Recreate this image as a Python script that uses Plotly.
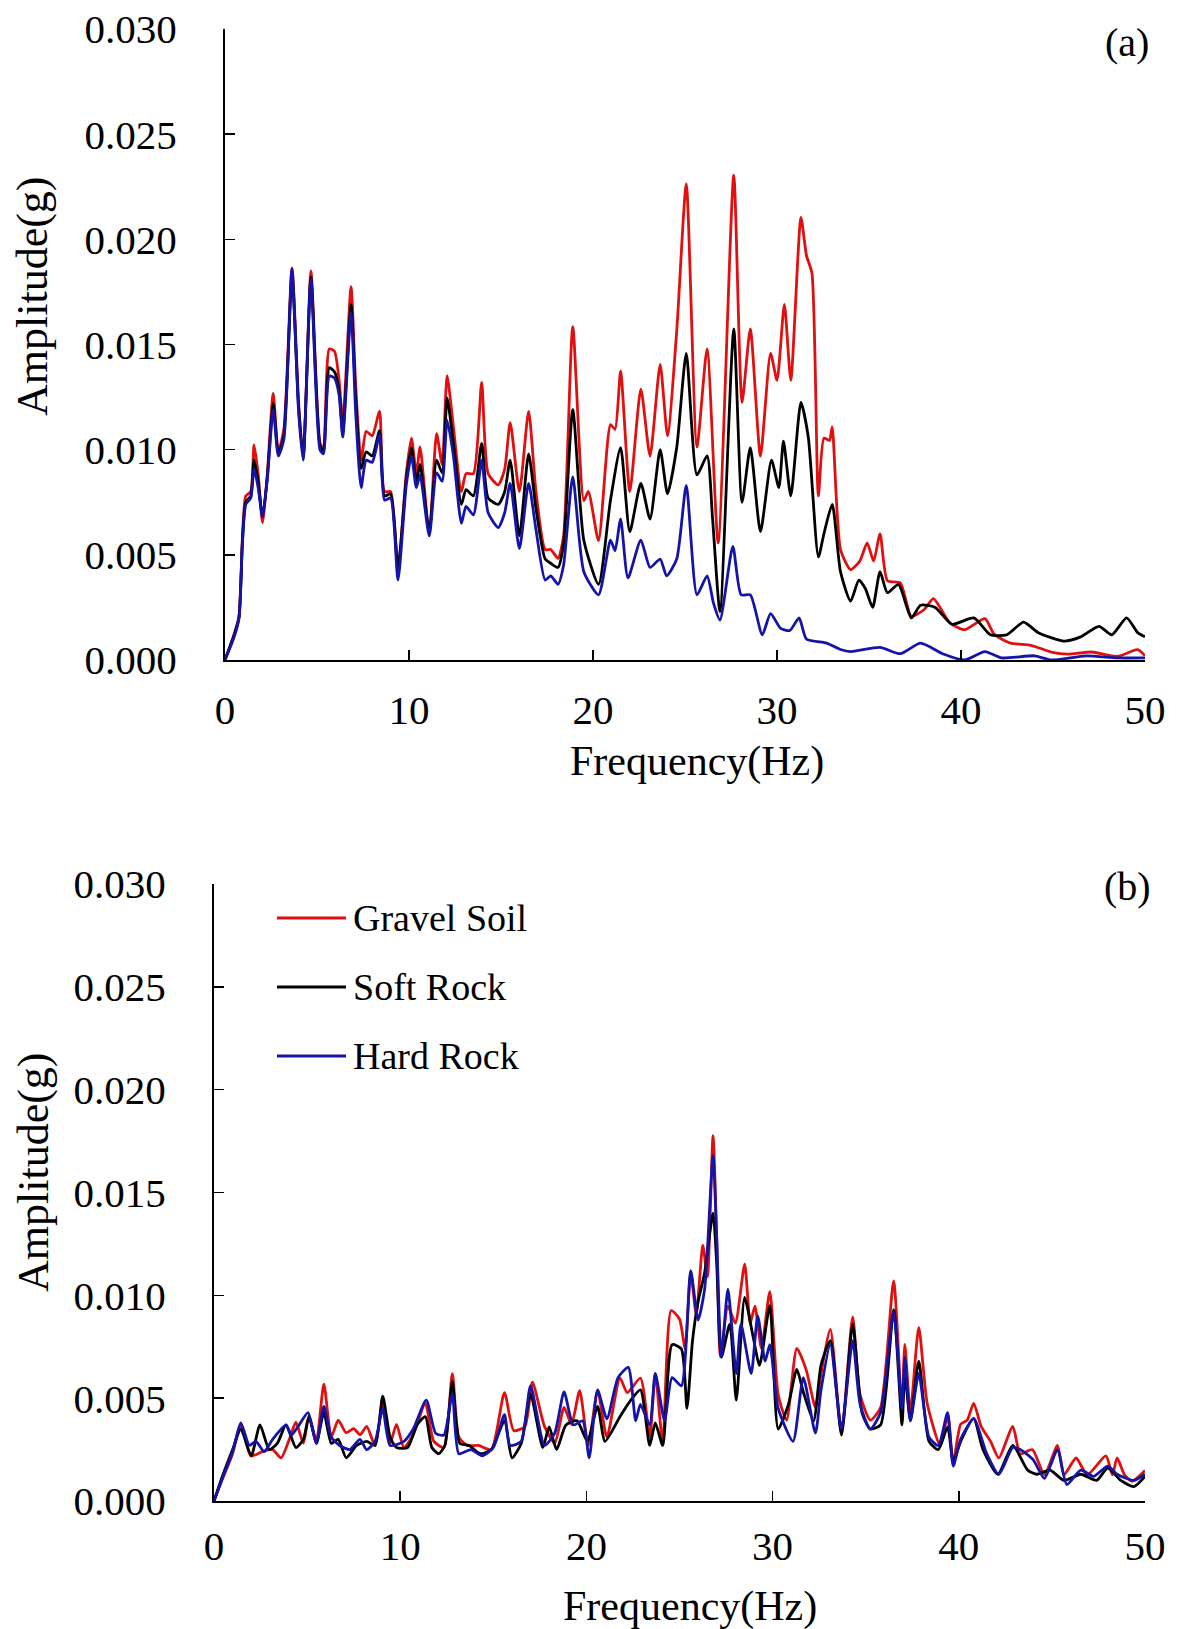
import plotly.graph_objects as go

# ---------------- Panel (a) data ----------------
freq_a_gravel = [0, 0.5, 0.76, 0.95, 1.13, 1.4, 1.58, 1.8, 2.04, 2.3, 2.62, 2.9, 3.2, 3.64, 4.0, 4.25, 4.67, 5.16, 5.35,
                 5.67, 5.95, 6.2, 6.4, 6.85, 7.1, 7.4, 7.67, 8.0, 8.4, 8.67, 9.0, 9.4, 9.85, 10.13, 10.4, 10.6, 11.1,
                 11.5, 11.8, 12.07, 12.4, 12.85, 13.1, 13.5, 13.95, 14.3, 14.85, 15.2, 15.5, 16.0, 16.5, 16.9, 17.4,
                 17.7, 18.1, 18.4, 18.9, 19.5, 19.75, 20.3, 20.95, 21.2, 21.5, 22.0, 22.6, 23.1, 23.65, 24.05, 24.55,
                 25.07, 25.65, 26.2, 26.8, 27.65, 28.1, 28.55, 29.1, 29.65, 30.0, 30.4, 30.75, 31.3, 31.6, 31.9, 32.25,
                 32.55, 32.85, 33.0, 33.45, 34.0, 34.5, 34.9, 35.25, 35.6, 36.0, 36.7, 37.3, 38.0, 38.5, 39.4, 40.2,
                 41.3, 41.8, 42.7, 43.8, 44.9, 45.8, 47.1, 48.5, 49.6, 50]
amp_a_gravel = [0, 0.00123, 0.00208, 0.00589, 0.0078, 0.0080, 0.01023, 0.00886, 0.00653, 0.00886, 0.01267, 0.00992,
                0.01097, 0.01864, 0.01225, 0.0096, 0.0185, 0.01034, 0.01002, 0.01479, 0.01468, 0.0133, 0.01129, 0.01775,
                0.0131, 0.00949, 0.01087, 0.01066, 0.01182, 0.00801, 0.00801, 0.00419, 0.00886, 0.01055, 0.00886,
                0.01013, 0.006, 0.01076, 0.0093, 0.01352, 0.01119, 0.00801, 0.00886, 0.00886, 0.0132, 0.00886, 0.00833,
                0.00907, 0.01129, 0.00801, 0.01182, 0.00801, 0.00525, 0.00525, 0.00483, 0.00589, 0.01585, 0.00758,
                0.00801, 0.00568, 0.01119, 0.01097, 0.01373, 0.00801, 0.01288, 0.0097, 0.01405, 0.01066, 0.01564,
                0.02263, 0.01013, 0.01479, 0.00557, 0.02305, 0.01225, 0.01574, 0.0097, 0.01458, 0.0133, 0.01691,
                0.0133, 0.02104, 0.01924, 0.01839, 0.0078, 0.01055, 0.01044, 0.01108, 0.00525, 0.0043, 0.0047,
                0.00557, 0.0047, 0.006, 0.00377, 0.00367, 0.00208, 0.0024, 0.00292, 0.00176, 0.00144, 0.00197,
                0.00123, 0.0008, 0.0007, 0.00038, 0.00028, 0.00038, 0.00017, 0.00049, 0.0002]

freq_a_soft = [0, 0.5, 0.76, 0.95, 1.13, 1.4, 1.58, 1.8, 2.04, 2.3, 2.62, 2.9, 3.2, 3.64, 4.0, 4.25, 4.67, 5.16, 5.35,
               5.67, 5.95, 6.2, 6.4, 6.85, 7.1, 7.4, 7.67, 8.0, 8.4, 8.67, 9.0, 9.4, 9.85, 10.13, 10.4, 10.6, 11.1,
               11.5, 11.8, 12.07, 12.4, 12.85, 13.1, 13.5, 13.95, 14.3, 14.85, 15.2, 15.5, 16.0, 16.5, 16.9, 17.4,
               17.7, 18.1, 18.4, 18.9, 19.5, 20.3, 20.95, 21.5, 22.0, 22.6, 23.1, 23.65, 24.05, 24.55, 25.07, 25.65,
               26.2, 26.5, 26.9, 27.65, 28.1, 28.55, 29.1, 29.7, 30.1, 30.35, 30.75, 31.3, 31.7, 32.25, 32.55, 33.0,
               33.45, 34.0, 34.45, 34.8, 35.2, 35.6, 36.0, 36.6, 37.3, 37.8, 38.6, 39.5, 40.7, 41.6, 42.5, 43.4,
               44.2, 45.6, 46.5, 47.5, 48.2, 49.0, 49.6, 50]
amp_a_soft = [0, 0.0012, 0.002, 0.0057, 0.0075, 0.0078, 0.0095, 0.0085, 0.0068, 0.0087, 0.0122, 0.0098, 0.0107,
              0.0183, 0.012, 0.0097, 0.0182, 0.0102, 0.0099, 0.0139, 0.0137, 0.0128, 0.0108, 0.0169, 0.0125, 0.0091,
              0.0099, 0.0097, 0.0109, 0.0078, 0.0079, 0.0044, 0.0086, 0.0101, 0.0085, 0.0093, 0.0061, 0.0095, 0.0089,
              0.01246, 0.0104, 0.0074, 0.0081, 0.0078, 0.0103, 0.0077, 0.0074, 0.0080, 0.0095, 0.0059, 0.0098, 0.0072,
              0.0048, 0.0046, 0.0044, 0.0055, 0.0119, 0.0057, 0.0036, 0.0076, 0.0101, 0.0061, 0.0084, 0.0067, 0.0100,
              0.0079, 0.0101, 0.01458, 0.0088, 0.0097, 0.0067, 0.0023, 0.01574, 0.0075, 0.0101, 0.0061, 0.0095, 0.0082,
              0.0104, 0.0078, 0.01225, 0.0106, 0.0049, 0.0060, 0.0074, 0.0042, 0.0028, 0.0038, 0.0034, 0.0025, 0.0042,
              0.0032, 0.0036, 0.0020, 0.0026, 0.0025, 0.0017, 0.0020, 0.0012, 0.0012, 0.0018, 0.0013, 0.0009, 0.0011,
              0.0016, 0.0012, 0.0020, 0.0013, 0.0011]

freq_a_hard = [0, 0.5, 0.76, 0.95, 1.13, 1.4, 1.58, 1.8, 2.04, 2.3, 2.62, 2.9, 3.2, 3.64, 4.0, 4.25, 4.67, 5.16, 5.35,
               5.67, 5.95, 6.2, 6.4, 6.85, 7.1, 7.4, 7.67, 8.0, 8.4, 8.67, 9.0, 9.4, 9.85, 10.13, 10.4, 10.6, 11.1,
               11.5, 11.8, 12.07, 12.4, 12.85, 13.1, 13.5, 13.95, 14.3, 14.85, 15.2, 15.5, 16.0, 16.5, 16.9, 17.4,
               17.7, 18.1, 18.4, 18.9, 19.5, 20.3, 20.95, 21.2, 21.5, 21.9, 22.6, 23.1, 23.65, 24.0, 24.55, 25.07,
               25.65, 26.2, 26.55, 26.9, 27.6, 28.05, 28.55, 29.2, 29.65, 30.2, 30.7, 31.2, 31.6, 32.7, 33.45, 34.0,
               35.6, 36.7, 37.8, 39.0, 40.2, 41.3, 42.2, 44.0, 44.9, 46.8, 48.5, 50]
amp_a_hard = [0, 0.0011, 0.002, 0.0056, 0.0074, 0.0077, 0.0091, 0.0082, 0.0068, 0.0086, 0.0119, 0.0097, 0.0105,
              0.0186, 0.0118, 0.0095, 0.0181, 0.0100, 0.0098, 0.0135, 0.0134, 0.0126, 0.0106, 0.0165, 0.0118, 0.0082,
              0.0095, 0.0094, 0.0107, 0.0076, 0.0077, 0.0038, 0.0083, 0.0097, 0.0082, 0.0088, 0.0059, 0.0089, 0.0085,
              0.0114, 0.0098, 0.0065, 0.0073, 0.0069, 0.0095, 0.0070, 0.0063, 0.0070, 0.0084, 0.0053, 0.0084, 0.0062,
              0.0038, 0.0040, 0.0036, 0.0045, 0.0087, 0.0042, 0.0031, 0.0057, 0.0052, 0.0067, 0.0039, 0.0057, 0.0044,
              0.0048, 0.0040, 0.0048, 0.0083, 0.0031, 0.0040, 0.0027, 0.0019, 0.0054, 0.0031, 0.0031, 0.0012, 0.0022,
              0.0015, 0.0014, 0.0020, 0.0010, 0.0008, 0.0005, 0.0004, 0.0006, 0.0003, 0.0008, 0.0003, 0.0, 0.0004,
              0.0001, 0.0002, 0.0, 0.0002, 0.0001, 0.0001]

# ---------------- Panel (b) data ----------------
freq_b_gravel = [0, 0.45, 1.0, 1.44, 1.98, 2.6, 3.15, 3.6, 4.05, 4.4, 4.8, 5.1, 5.5, 5.9, 6.3, 6.67, 7.1, 7.5, 7.85,
                 8.2, 8.65, 9.06, 9.46, 9.8, 10.2, 10.7, 11.35, 11.8, 12.34, 12.8, 13.15, 13.6, 14.2, 14.9, 15.6, 16.1,
                 16.7, 17.1, 17.75, 18.3, 18.8, 19.2, 19.64, 20.1, 20.6, 21.1, 21.8, 22.2, 22.9, 23.4, 23.7, 24.1,
                 24.55, 25.0, 25.3, 25.6, 25.9, 26.25, 26.5, 26.8, 27.0, 27.2, 27.6, 28.0, 28.5, 28.8, 29.05, 29.4,
                 29.85, 30.3, 30.75, 31.3, 31.8, 32.3, 32.6, 33.1, 33.7, 34.3, 34.7, 35.25, 35.8, 36.5, 36.95, 37.1,
                 37.4, 37.85, 38.3, 39.0, 39.4, 39.7, 40.1, 40.45, 40.8, 41.2, 41.7, 42.15, 42.9, 43.3, 43.95, 44.6,
                 45.3, 45.65, 46.3, 46.9, 47.9, 48.25, 48.5, 48.9, 49.3, 50]
amp_b_gravel = [0, 0.00107, 0.0023, 0.00373, 0.00219, 0.0024, 0.0025, 0.00209, 0.00301, 0.00383, 0.00281, 0.00414,
                0.00291, 0.00568, 0.00311, 0.00393, 0.00332, 0.00352, 0.00322, 0.00363, 0.0027, 0.00475, 0.00281,
                0.00373, 0.0026, 0.00322, 0.00475, 0.00291, 0.0026, 0.00619, 0.00311, 0.0027, 0.0027, 0.0025, 0.00527,
                0.00342, 0.00363, 0.00578, 0.00363, 0.00281, 0.00455, 0.00373, 0.00537, 0.0027, 0.00537, 0.00311,
                0.00598, 0.00527, 0.00598, 0.00311, 0.00619, 0.00281, 0.00926, 0.00885, 0.00742, 0.01111, 0.00906,
                0.01244, 0.0109, 0.01777, 0.01275, 0.00701, 0.00947, 0.00865, 0.01152, 0.00865, 0.00947, 0.00742,
                0.01018, 0.00516, 0.00393, 0.00742, 0.00639, 0.00455, 0.00619, 0.00834, 0.00332, 0.00895, 0.00516,
                0.00393, 0.00455, 0.0107, 0.00434, 0.00762, 0.00434, 0.00844, 0.00475, 0.0027, 0.00414, 0.00189,
                0.00373, 0.00393, 0.00475, 0.00363, 0.00291, 0.00209, 0.00363, 0.00229, 0.0025, 0.00127, 0.0027,
                0.00127, 0.00209, 0.00127, 0.00219, 0.00127, 0.00209, 0.00127, 0.00096, 0.00148]

freq_b_soft = [0, 0.45, 1.0, 1.44, 2.0, 2.47, 2.97, 3.4, 3.87, 4.4, 4.8, 5.1, 5.5, 5.9, 6.3, 6.67, 7.1, 7.66, 8.2,
               8.65, 9.06, 9.46, 9.8, 10.4, 10.9, 11.35, 11.7, 12.07, 12.4, 12.8, 13.2, 13.7, 14.3, 14.9, 15.6, 16.0,
               16.5, 17.0, 17.66, 18.0, 18.4, 18.9, 19.5, 20.05, 20.6, 21.0, 21.8, 22.3, 22.9, 23.4, 23.7, 24.1, 24.6,
               25.1, 25.4, 25.7, 26.0, 26.35, 26.8, 27.0, 27.25, 27.7, 28.05, 28.5, 28.95, 29.3, 29.85, 30.3, 30.85,
               31.3, 31.65, 32.2, 32.6, 33.1, 33.7, 34.3, 34.8, 35.25, 35.8, 36.5, 36.95, 37.1, 37.4, 37.85, 38.4,
               38.9, 39.4, 39.7, 40.1, 40.8, 41.3, 42.1, 42.9, 43.7, 44.2, 44.9, 45.65, 46.55, 47.4, 48.0, 48.7,
               49.4, 50]
amp_b_soft = [0, 0.0012, 0.0025, 0.0035, 0.0022, 0.0037, 0.0025, 0.0028, 0.0037, 0.0026, 0.0030, 0.0041, 0.0028,
              0.0043, 0.0028, 0.0030, 0.0021, 0.0027, 0.0029, 0.0027, 0.0051, 0.0031, 0.0026, 0.0026, 0.0037, 0.0041,
              0.0026, 0.0023, 0.0027, 0.0058, 0.0028, 0.0027, 0.0023, 0.0025, 0.0039, 0.0021, 0.0028, 0.0052, 0.0026,
              0.0036, 0.0025, 0.0037, 0.0039, 0.0029, 0.0046, 0.0029, 0.0041, 0.0048, 0.0054, 0.0027, 0.0038, 0.0027,
              0.0076, 0.0074, 0.0045, 0.0078, 0.0097, 0.0111, 0.0140, 0.0115, 0.0070, 0.0086, 0.0049, 0.0099, 0.0080,
              0.0066, 0.0095, 0.0035, 0.0047, 0.0064, 0.0053, 0.0039, 0.0066, 0.0078, 0.0032, 0.0086, 0.0043, 0.0035,
              0.0037, 0.0093, 0.0037, 0.0062, 0.0039, 0.0068, 0.0029, 0.0025, 0.0036, 0.0019, 0.0029, 0.0040, 0.0025,
              0.0013, 0.0027, 0.0015, 0.0013, 0.0015, 0.0010, 0.0013, 0.0010, 0.0016, 0.0010, 0.0007, 0.0012]

freq_b_hard = [0, 0.45, 1.0, 1.44, 1.9, 2.25, 2.7, 3.15, 3.87, 4.15, 4.5, 5.05, 5.5, 5.9, 6.3, 6.75, 7.3, 7.84, 8.2,
               8.65, 9.06, 9.46, 10.2, 10.7, 11.4, 11.9, 12.34, 12.8, 13.15, 13.8, 14.4, 15.0, 15.6, 15.9, 16.5, 17.0,
               17.75, 18.3, 18.8, 19.3, 19.8, 20.15, 20.6, 21.1, 21.7, 22.25, 22.65, 22.9, 23.4, 23.7, 24.2, 24.6,
               25.1, 25.6, 26.0, 26.35, 26.8, 27.0, 27.25, 27.6, 28.05, 28.3, 28.85, 29.2, 29.6, 29.85, 30.3, 31.1,
               31.65, 32.3, 32.6, 33.1, 33.7, 34.3, 34.7, 35.25, 35.8, 36.5, 36.95, 37.1, 37.4, 37.85, 38.4, 38.9,
               39.4, 39.7, 40.1, 40.8, 41.5, 42.15, 42.9, 43.3, 44.0, 44.6, 45.3, 45.8, 46.55, 47.25, 48.0, 48.5,
               49.4, 50]
amp_b_hard = [0, 0.0011, 0.0024, 0.0038, 0.0027, 0.0029, 0.0024, 0.0030, 0.0037, 0.0032, 0.0036, 0.0043, 0.0028,
              0.0046, 0.0031, 0.0027, 0.0025, 0.0030, 0.0025, 0.0029, 0.0045, 0.0027, 0.0029, 0.0035, 0.0049, 0.0033,
              0.0032, 0.0052, 0.0023, 0.0025, 0.0022, 0.0026, 0.0042, 0.0027, 0.0029, 0.0056, 0.0027, 0.0033, 0.0053,
              0.0037, 0.0039, 0.0021, 0.0054, 0.0040, 0.0060, 0.0065, 0.0039, 0.0047, 0.0037, 0.0062, 0.0039, 0.0060,
              0.0056, 0.0112, 0.0088, 0.0103, 0.0168, 0.0127, 0.0070, 0.0103, 0.0062, 0.0086, 0.0062, 0.0090, 0.0068,
              0.0076, 0.0045, 0.0029, 0.0060, 0.0033, 0.0054, 0.0076, 0.0035, 0.0078, 0.0047, 0.0035, 0.0043, 0.0092,
              0.0045, 0.0070, 0.0039, 0.0062, 0.0031, 0.0027, 0.0043, 0.0017, 0.0030, 0.0040, 0.0023, 0.0013, 0.0026,
              0.0025, 0.0020, 0.0011, 0.0025, 0.0008, 0.0015, 0.0012, 0.0017, 0.0013, 0.0010, 0.0013]

series_names = ["Gravel Soil", "Soft Rock", "Hard Rock"]
series_colors = ["#e01010", "#000000", "#1414a8"]
x_tick_vals = [0, 10, 20, 30, 40, 50]
y_tick_vals = [0, 0.005, 0.010, 0.015, 0.020, 0.025, 0.030]
y_tick_text = ["0.000", "0.005", "0.010", "0.015", "0.020", "0.025", "0.030"]
panel_labels = ["(a)", "(b)"]
x_title = "Frequency(Hz)"
y_title = "Amplitude(g)"

FONT = "Liberation Serif, Times New Roman, serif"
W, H = 1183, 1629

fig = go.Figure()

panel_a = [(freq_a_gravel, amp_a_gravel), (freq_a_soft, amp_a_soft), (freq_a_hard, amp_a_hard)]
panel_b = [(freq_b_gravel, amp_b_gravel), (freq_b_soft, amp_b_soft), (freq_b_hard, amp_b_hard)]

for (fx, fy), name, col in zip(panel_a, series_names, series_colors):
    fig.add_trace(go.Scatter(x=fx, y=fy, mode="lines", name=name, showlegend=False,
                             line=dict(color=col, width=2.8, shape="spline", smoothing=0.6),
                             xaxis="x", yaxis="y"))
for (fx, fy), name, col in zip(panel_b, series_names, series_colors):
    fig.add_trace(go.Scatter(x=fx, y=fy, mode="lines", name=name, showlegend=False,
                             line=dict(color=col, width=2.8, shape="spline", smoothing=0.6),
                             xaxis="x2", yaxis="y2"))


def px_x(p):
    return p / W


def px_y(p):
    return 1 - p / H


def xaxis_cfg(domain, anchor, standoff):
    return dict(domain=domain, anchor=anchor, range=[0, 50], tickvals=x_tick_vals, automargin=False,
                ticks="inside", ticklen=10, tickwidth=1.5, tickcolor="black",
                showline=True, linecolor="black", linewidth=2, showgrid=False, zeroline=False,
                tickfont=dict(family=FONT, size=41, color="black"), ticklabelstandoff=standoff)


def yaxis_cfg(domain, anchor):
    return dict(domain=domain, anchor=anchor, range=[0, 0.030], tickvals=y_tick_vals, ticktext=y_tick_text,
                automargin=False,
                ticks="inside", ticklen=10, tickwidth=1.5, tickcolor="black",
                showline=True, linecolor="black", linewidth=2, showgrid=False, zeroline=False,
                tickfont=dict(family=FONT, size=41, color="black"), ticklabelstandoff=38)


layout = dict(
    width=W, height=H, margin=dict(l=0, r=0, t=0, b=0, autoexpand=False),
    paper_bgcolor="white", plot_bgcolor="white", hovermode=False,
    xaxis=xaxis_cfg([px_x(225), px_x(1145)], "y", 13),
    yaxis=yaxis_cfg([px_y(660), px_y(29)], "x"),
    xaxis2=xaxis_cfg([px_x(214), px_x(1145)], "y2", 8),
    yaxis2=yaxis_cfg([px_y(1501), px_y(884)], "x2"),
)
fig.update_layout(**layout)

ann = []
# axis titles
for cx, cy in [(697, 761), (690, 1606)]:
    ann.append(dict(x=px_x(cx), y=px_y(cy), xref="paper", yref="paper", text=x_title, showarrow=False,
                    font=dict(family=FONT, size=42, color="black"), xanchor="center", yanchor="middle"))
for cx, cy in [(33, 296), (33, 1172)]:
    ann.append(dict(x=px_x(cx), y=px_y(cy), xref="paper", yref="paper", text=y_title, showarrow=False,
                    textangle=-90, font=dict(family=FONT, size=44, color="black"),
                    xanchor="center", yanchor="middle"))
# panel labels
for lab, (cx, cy) in zip(panel_labels, [(1127, 42), (1127, 886)]):
    ann.append(dict(x=px_x(cx), y=px_y(cy), xref="paper", yref="paper", text=lab, showarrow=False,
                    font=dict(family=FONT, size=40, color="black"), xanchor="center", yanchor="middle"))

# legend (panel b)
shapes = []
for i, (name, col) in enumerate(zip(series_names, series_colors)):
    yy = [918, 987, 1056][i]
    shapes.append(dict(type="line", xref="paper", yref="paper", x0=px_x(277), x1=px_x(346),
                       y0=px_y(yy), y1=px_y(yy), line=dict(color=col, width=2.8)))
    ann.append(dict(x=px_x(351), y=px_y(yy), xref="paper", yref="paper", text=name, showarrow=False,
                    font=dict(family=FONT, size=38, color="black"), xanchor="left", yanchor="middle"))

fig.update_layout(annotations=ann, shapes=shapes)

fig.write_html("out.html", config={"displayModeBar": False, "staticPlot": True},
               post_script="document.body.style.margin='0';document.body.style.overflow='hidden';")
